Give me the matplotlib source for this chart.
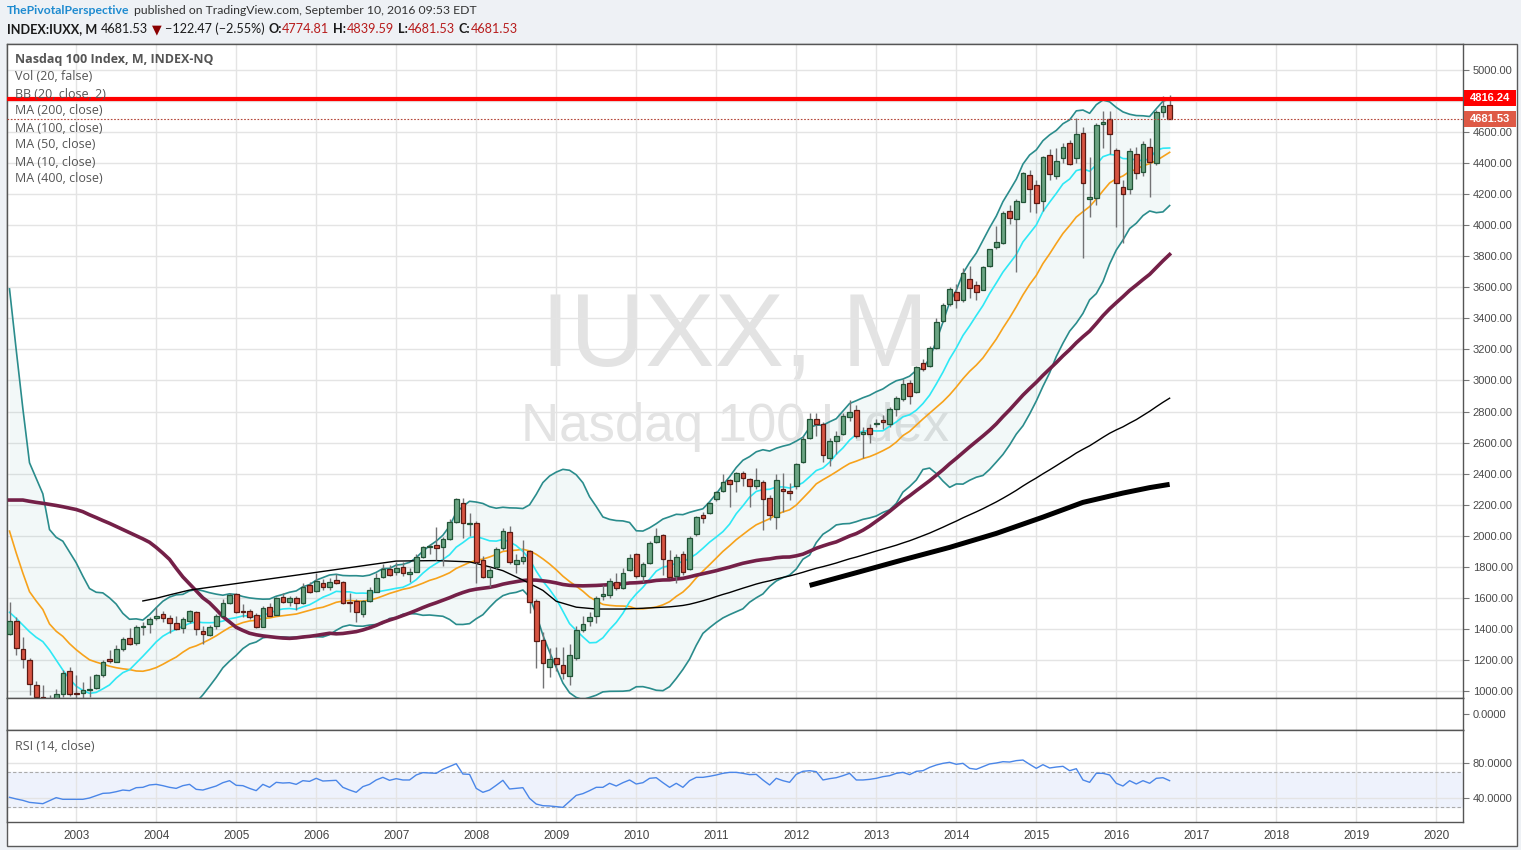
import numpy as np
import pandas as pd
import matplotlib
matplotlib.use("Agg")
import matplotlib.pyplot as plt
from matplotlib.patches import Rectangle

# ---------------- data ----------------
months = pd.date_range("2002-03-01", periods=175, freq="MS")

opens = [1365, 1451, 1269, 1200, 1037, 962, 942, 832, 979, 1130,
         990, 985, 1008, 1017, 1101, 1206, 1189, 1269, 1339, 1307, 1415, 1430,
         1468, 1494, 1468, 1436, 1404, 1453, 1506, 1386, 1361, 1419, 1483, 1569,
         1625, 1515, 1515, 1490, 1414, 1539, 1490, 1603, 1575, 1597, 1565, 1683,
         1644, 1698, 1668, 1715, 1704, 1575, 1580, 1496, 1582, 1640, 1732, 1784,
         1765, 1797, 1752, 1768, 1865, 1930, 1938, 1926, 1982, 2087, 2213, 2078,
         2080, 1844, 1736, 1801, 1919, 2022, 1816, 1839, 1902, 1580, 1328, 1153,
         1210, 1167, 1097, 1210, 1393, 1453, 1483, 1615, 1618, 1704, 1661, 1779,
         1880, 1741, 1822, 1962, 2005, 1844, 1741, 1880, 1786, 2011, 2131, 2145,
         2235, 2290, 2359, 2353, 2402, 2364, 2320, 2348, 2240, 2123, 2301, 2288,
         2320, 2477, 2628, 2750, 2720, 2504, 2612, 2655, 2763, 2810, 2653, 2692,
         2722, 2743, 2718, 2814, 2879, 2982, 2928, 3111, 3093, 3211, 3385, 3491,
         3568, 3518, 3651, 3612, 3586, 3737, 3858, 3884, 4092, 4038, 4152, 4324,
         4259, 4158, 4452, 4318, 4430, 4527, 4430, 4592, 4170, 4177, 4655, 4682,
         4485, 4248, 4231, 4457, 4344, 4501, 4403, 4727, 4774.81]

highs = [1575, 1475, 1350, 1210, 1066, 1039, 974, 1010, 1135, 1157,
         1103, 1060, 1097, 1110, 1200, 1264, 1296, 1350, 1404, 1423, 1446, 1479,
         1543, 1517, 1490, 1480, 1475, 1522, 1515, 1417, 1425, 1495, 1591, 1633,
         1630, 1560, 1530, 1505, 1545, 1569, 1607, 1629, 1615, 1610, 1698, 1705,
         1758, 1720, 1730, 1754, 1710, 1629, 1590, 1585, 1672, 1758, 1818, 1810,
         1830, 1830, 1790, 1880, 1935, 1950, 2058, 1995, 2110, 2240, 2240, 2149,
         2095, 1870, 1800, 1925, 2052, 2060, 1880, 1973, 1910, 1590, 1382, 1275,
         1285, 1285, 1300, 1420, 1480, 1510, 1610, 1680, 1730, 1760, 1790, 1880,
         1890, 1830, 1965, 2053, 2010, 1910, 1880, 1900, 2000, 2130, 2150, 2215,
         2290, 2400, 2365, 2410, 2415, 2370, 2438, 2360, 2265, 2400, 2402, 2340,
         2470, 2640, 2788, 2788, 2730, 2630, 2672, 2790, 2874, 2842, 2700, 2720,
         2750, 2780, 2830, 2900, 3010, 3000, 3095, 3140, 3225, 3400, 3500, 3600,
         3620, 3725, 3735, 3640, 3740, 3850, 3995, 4090, 4130, 4170, 4345, 4355,
         4290, 4445, 4490, 4500, 4530, 4550, 4689, 4630, 4442, 4660, 4738, 4738,
         4500, 4290, 4500, 4505, 4540, 4560, 4740, 4833, 4839.59]

lows = [1361, 1232, 1146, 974, 833, 900, 832, 795, 960, 965,
        950, 955, 960, 1010, 1090, 1180, 1185, 1256, 1295, 1295, 1361, 1371,
        1460, 1445, 1373, 1390, 1375, 1440, 1361, 1303, 1355, 1400, 1480, 1562,
        1505, 1478, 1465, 1405, 1410, 1480, 1488, 1565, 1550, 1522, 1560, 1630,
        1640, 1650, 1650, 1690, 1560, 1511, 1446, 1475, 1575, 1635, 1725, 1740,
        1750, 1740, 1700, 1765, 1855, 1880, 1844, 1805, 1975, 2080, 1983, 1998,
        1694, 1725, 1668, 1785, 1905, 1820, 1762, 1820, 1500, 1146, 1017, 1092,
        1130, 1080, 1039, 1200, 1380, 1420, 1440, 1585, 1600, 1650, 1660, 1770,
        1730, 1700, 1815, 1955, 1747, 1730, 1698, 1750, 1780, 2000, 2080, 2140,
        2225, 2280, 2187, 2280, 2320, 2183, 2300, 2037, 2100, 2042, 2155, 2230,
        2300, 2470, 2620, 2640, 2477, 2449, 2527, 2650, 2740, 2630, 2498, 2600,
        2700, 2690, 2700, 2770, 2870, 2850, 2920, 3060, 3085, 3200, 3380, 3480,
        3470, 3505, 3530, 3520, 3580, 3730, 3845, 3880, 4010, 3701, 4150, 4087,
        4080, 4090, 4290, 4300, 4400, 4390, 4400, 3787, 4055, 4130, 4496, 4460,
        3990, 3887, 4200, 4300, 4320, 4179, 4390, 4700, 4681.53]

closes = [1451, 1275, 1204, 1043, 959, 942, 832, 980, 1114, 979,
          982, 1006, 1013, 1101, 1189, 1195, 1269, 1333, 1301, 1410, 1418, 1462,
          1485, 1468, 1436, 1397, 1462, 1515, 1397, 1365, 1410, 1483, 1569, 1618,
          1511, 1507, 1475, 1414, 1537, 1483, 1596, 1575, 1597, 1569, 1668, 1640,
          1708, 1668, 1704, 1694, 1569, 1569, 1507, 1580, 1650, 1726, 1784, 1747,
          1790, 1758, 1767, 1861, 1926, 1934, 1923, 1982, 2087, 2235, 2084, 2082,
          1833, 1736, 1779, 1913, 2031, 1829, 1844, 1865, 1575, 1324, 1178, 1204,
          1174, 1114, 1232, 1393, 1431, 1479, 1597, 1625, 1711, 1661, 1762, 1855,
          1741, 1818, 1951, 1998, 1848, 1732, 1861, 1765, 1988, 2119, 2112, 2213,
          2282, 2344, 2331, 2405, 2370, 2320, 2359, 2235, 2134, 2359, 2290, 2273,
          2459, 2621, 2750, 2720, 2520, 2610, 2642, 2771, 2795, 2642, 2670, 2653,
          2726, 2731, 2814, 2885, 2975, 2902, 3085, 3072, 3211, 3374, 3486, 3587,
          3516, 3690, 3594, 3569, 3729, 3845, 3890, 4077, 4045, 4156, 4334, 4231,
          4141, 4437, 4328, 4413, 4501, 4392, 4585, 4270, 4180, 4646, 4665, 4585,
          4274, 4199, 4478, 4334, 4521, 4409, 4727, 4768, 4681.53]

rsi14 = [40.8, 38.9, 37.3, 35.0, 34.3, 33.5, 37.0, 40.4, 38.5, 38.5,
         38.5, 38.5, 40.0, 42.7, 45.3, 45.7, 47.2, 49.1, 48.4, 51.8,
         52.2, 54.9, 55.6, 54.1, 52.2, 51.0, 54.1, 55.6, 49.9, 49.1,
         51.4, 53.7, 57.5, 59.8, 54.5, 54.1, 51.0, 48.4, 55.6, 52.2,
         57.9, 57.1, 57.5, 55.6, 59.8, 59.0, 62.5, 59.4, 59.8, 60.2,
         52.2, 49.1, 46.5, 53.0, 55.6, 60.6, 63.6, 60.2, 62.1, 60.6,
         60.6, 66.3, 69.0, 68.6, 68.2, 72.8, 76.0, 79.2, 67.4, 67.0,
         51.0, 46.5, 49.1, 54.5, 60.2, 50.3, 51.0, 51.8, 39.6, 33.1,
         31.2, 30.9, 30.1, 29.3, 36.2, 43.0, 45.0, 48.4, 52.2, 52.2,
         56.8, 53.7, 57.5, 60.6, 56.0, 57.5, 62.5, 63.2, 57.5, 52.2,
         56.8, 52.2, 59.8, 63.6, 63.6, 64.8, 66.3, 68.2, 69.3, 69.3,
         68.2, 66.7, 67.0, 60.6, 54.9, 62.5, 59.8, 57.9, 67.0, 70.5,
         71.2, 70.1, 60.6, 62.1, 63.2, 65.5, 68.2, 60.6, 60.6, 61.3,
         62.5, 64.4, 65.5, 68.2, 69.3, 66.7, 70.5, 71.2, 75.0, 77.7,
         79.6, 80.8, 78.5, 79.6, 73.9, 72.8, 75.8, 78.9, 80.0, 81.5,
         81.1, 82.7, 83.4, 78.5, 73.9, 78.1, 74.3, 75.4, 76.2, 71.2,
         73.5, 60.6, 57.9, 68.2, 68.2, 66.3, 56.8, 53.7, 59.8, 56.0,
         59.8, 56.8, 62.5, 63.2, 59.8]

# indicator values before enough in-chart history exists
ma10_pre = [1507, 1468, 1425, 1382, 1346, 1318, 1264, 1200, 1135]
bb_basis_pre = [2030, 1890, 1760, 1640, 1580, 1525, 1432, 1385, 1352, 1305,
                1266, 1232, 1201, 1186, 1173, 1160, 1150, 1143, 1138]
bb_upper_pre = [3590, 3200, 2820, 2470, 2370, 2270, 2040, 1990, 1965, 1895,
                1826, 1740, 1660, 1636, 1632, 1600, 1560, 1500, 1462]
ma50_pre = [2230, 2230, 2230, 2222, 2215, 2209, 2202, 2195, 2187, 2178,
            2169, 2155, 2135, 2117, 2098, 2080, 2060, 2040, 2020, 2000,
            1980, 1958, 1925, 1888, 1848, 1790, 1735, 1690, 1645, 1600,
            1568, 1525, 1479, 1445, 1410, 1390, 1372, 1362, 1355, 1350,
            1345, 1341, 1339, 1342, 1348, 1352, 1358, 1365, 1372]
ma100_pre_idx = [20, 22, 24, 27, 43, 58, 64, 69, 72, 74, 77, 80, 82, 85, 88, 92, 95]
ma100_pre_val = [1580, 1597, 1619, 1650, 1746, 1837, 1840, 1832, 1800, 1775,
                 1715, 1648, 1578, 1540, 1528, 1528, 1533]
ma200_idx = [120, 127, 134, 141, 148, 155, 161, 167, 171, 174]
ma200_val = [1680, 1762, 1845, 1925, 2015, 2120, 2215, 2275, 2310, 2331]

year_labels = [str(y) for y in range(2003, 2021)]
price_ticks = list(range(1000, 5001, 200))
resistance = 4816.24
last_close = 4681.53

# ---------------- indicators ----------------
c = pd.Series(closes, dtype=float)
n = len(c)
xi = np.arange(n)
ma10 = c.rolling(10).mean().to_numpy()
ma10[:9] = ma10_pre
basis = c.rolling(20).mean().to_numpy()
sd = c.rolling(20).std(ddof=0).to_numpy()
upper = basis + 2 * sd
lower = basis - 2 * sd
basis[:19] = bb_basis_pre
upper[:19] = bb_upper_pre
lower[:19] = 2 * np.array(bb_basis_pre) - np.array(bb_upper_pre)
ma50 = c.rolling(50).mean().to_numpy()
ma50[:49] = ma50_pre
ma100 = c.rolling(100).mean().to_numpy()
ma100_x = list(ma100_pre_idx) + list(range(99, n))
ma100_y = list(ma100_pre_val) + list(ma100[99:])

# ---------------- figure ----------------
W, H = 1521, 850
fig = plt.figure(figsize=(W / 100, H / 100), dpi=100)
fig.patch.set_facecolor("#eef1f5")
FONT = ["Open Sans", "DejaVu Sans"]
HFONT = ["Lato", "DejaVu Sans"]


def fx(x):
    return x / W


def fy(y):
    return 1 - y / H


# white chart frame
fig.add_artist(Rectangle((fx(7), fy(846)), fx(1517) - fx(7), fy(44) - fy(846),
                         transform=fig.transFigure, facecolor="white",
                         edgecolor="#5a5a5a", lw=1, zorder=0))

L, R = 7, 1463
xlim = (-0.375, 218.0)
year_pos = [(y - 2002) * 12 - 2 for y in range(2003, 2021)]
grid_c = "#e4e4e4"
spine_c = "#555555"


def make_ax(top, bottom):
    a = fig.add_axes([fx(L), fy(bottom), fx(R) - fx(L), fy(top) - fy(bottom)])
    a.set_xlim(*xlim)
    a.set_facecolor("white")
    for s in a.spines.values():
        s.set_color(spine_c)
        s.set_linewidth(1)
    a.set_xticks(year_pos)
    a.grid(True, axis="x", color=grid_c, lw=1, zorder=0)
    a.tick_params(axis="x", length=0, labelbottom=False)
    a.yaxis.tick_right()
    a.tick_params(axis="y", length=4, color="#777777", labelsize=8,
                  labelcolor="#4a4a4a", pad=3)
    a.set_axisbelow(True)
    return a


# main price pane
ax = make_ax(44, 698)
ax.set_ylim(1000 - 7 / 0.15525, 1000 + (691 - 44) / 0.15525)
ax.set_yticks(price_ticks)
# the 4800 label is hidden behind the resistance price tag in the reference
ax.set_yticklabels(["" if v == 4800 else f"{v:.2f}" for v in price_ticks],
                   family="Liberation Sans")
ax.grid(True, axis="y", color=grid_c, lw=1, zorder=0)

ax.text(0.5, 0.548, "IUXX, M", transform=ax.transAxes, ha="center", va="center",
        fontsize=75, color="#e3e3e3", family="Liberation Sans", zorder=0.5)
ax.text(0.5, 0.414, "Nasdaq 100 Index", transform=ax.transAxes, ha="center",
        va="center", fontsize=38, color="#e3e3e3", family="Liberation Sans",
        zorder=0.5)

ax.fill_between(xi, lower, upper, color="#138484", alpha=0.05, lw=0, zorder=1)
ax.plot(xi, upper, color="#2a8c8c", lw=1.2, zorder=3)
ax.plot(xi, lower, color="#2a8c8c", lw=1.2, zorder=3)
ax.plot(xi, basis, color="#f7a21b", lw=1.2, zorder=3)
ax.plot(xi, ma10, color="#2ee8f5", lw=1.2, zorder=3)
ax.plot(xi, ma50, color="#742048", lw=2.6, zorder=3)
ax.plot(ma100_x, ma100_y, color="black", lw=1.0, zorder=3)
ax.plot(ma200_idx, ma200_val, color="black", lw=3.6, zorder=3,
        solid_capstyle="butt", solid_joinstyle="round")

o = np.array(opens, float)
h = np.array(highs, float)
lo = np.array(lows, float)
cl = np.array(closes, float)
up = cl >= o
ax.vlines(xi, lo, h, color="#737375", lw=1, zorder=5)
mid = (o + cl) / 2
bh = np.maximum(np.abs(cl - o), 7)
bb = mid - bh / 2
ax.bar(xi[up], bh[up], bottom=bb[up], width=0.7, color="#6ba583",
       edgecolor="#225437", lw=0.9, zorder=6)
ax.bar(xi[~up], bh[~up], bottom=bb[~up], width=0.7, color="#d75442",
       edgecolor="#5b1a13", lw=0.9, zorder=6)

ax.axhline(resistance, color="#ff0000", lw=3, zorder=8)
ax.axhline(last_close, color="#b5473a", lw=0.8, ls=(0, (1.5, 1.5)), zorder=8)

# legend texts in pane
fig.text(fx(15), fy(60), "Nasdaq 100 Index, M, INDEX-NQ", fontsize=9,
         fontweight="bold", color="#555555", family=FONT, va="center")
leg = ["Vol (20, false)", "BB (20, close, 2)", "MA (200, close)",
       "MA (100, close)", "MA (50, close)", "MA (10, close)", "MA (400, close)"]
for i, s in enumerate(leg):
    fig.text(fx(15), fy(77 + 17 * i), s, fontsize=9, color="#555555",
             family=FONT, va="center", zorder=1)

# volume pane
ax2 = make_ax(698, 730)
ax2.set_ylim(-1, 1)
ax2.set_yticks([0])
ax2.set_yticklabels(["0.0000"], family="Liberation Sans")

# RSI pane
ax3 = make_ax(730, 822)
ax3.set_ylim(40 - 24 / 0.875, 80 + 33 / 0.875)
ax3.axhspan(30, 70, color="#eef2fc", zorder=0.2)
ax3.axhline(70, color="#aaaaaa", lw=0.8, ls=(0, (3, 2)), zorder=1)
ax3.axhline(30, color="#aaaaaa", lw=0.8, ls=(0, (3, 2)), zorder=1)
ax3.set_yticks([40, 80])
ax3.set_yticklabels(["40.0000", "80.0000"], family="Liberation Sans")
ax3.grid(True, axis="y", color=grid_c, lw=1, zorder=0.3)
ax3.plot(xi, rsi14, color="#4a86e8", lw=1, zorder=3)
ax3.tick_params(axis="x", labelbottom=True, labelsize=8.5, labelcolor="#444444",
                pad=6)
ax3.set_xticklabels(year_labels, family="Liberation Sans")
fig.text(fx(15), fy(747), "RSI (14, close)", fontsize=9, color="#555555",
         family=FONT, va="center")

# price tags on the right axis
for val, yc, col in [(resistance, 98, "#ff0000"), (last_close, 119, "#de5a46")]:
    fig.add_artist(Rectangle((fx(1464), fy(yc + 8)), fx(1516) - fx(1464), 16 / H,
                             transform=fig.transFigure, facecolor=col,
                             edgecolor="none", zorder=10))
    fig.text(fx(1490), fy(yc), f"{val:.2f}", color="white", fontsize=8,
             fontweight="bold", ha="center", va="center",
             family="Liberation Sans", zorder=11)

# header
renderer = fig.canvas.get_renderer()


def chain(x, y, parts, size, target):
    # measure, then rescale the font so the line spans the reference width
    tmp = []
    total = 0
    for s, col, wt, gap in parts:
        t = fig.text(0, 0, s, fontsize=size, fontweight=wt, family=HFONT)
        total += t.get_window_extent(renderer=renderer).width + gap
        tmp.append(t)
    for t in tmp:
        t.remove()
    size = size * target / total
    for s, col, wt, gap in parts:
        t = fig.text(fx(x), fy(y), s, color=col, fontsize=size, fontweight=wt,
                     family=HFONT, va="center", ha="left")
        x += t.get_window_extent(renderer=renderer).width + gap


chain(7, 11, [("ThePivotalPerspective", "#1e8bd0", "bold", 4),
              ("published on TradingView.com, September 10, 2016 09:53 EDT",
               "#333333", "normal", 0)], 9.5, 472)
red = "#b71c1c"
dark = "#1a1a1a"
chain(7, 29, [("INDEX:IUXX, M", dark, "bold", 4),
              ("4681.53", dark, "normal", 4),
              ("\u25bc", "#8b0000", "normal", 3),
              ("\u2212122.47 (\u22122.55%)", dark, "normal", 4),
              ("O:", dark, "bold", 0), ("4774.81", red, "normal", 4),
              ("H:", dark, "bold", 0), ("4839.59", red, "normal", 4),
              ("L:", dark, "bold", 0), ("4681.53", red, "normal", 4),
              ("C:", dark, "bold", 0), ("4681.53", red, "normal", 0)], 9.5, 512)

fig.savefig("out.png", dpi=100, facecolor=fig.get_facecolor())
